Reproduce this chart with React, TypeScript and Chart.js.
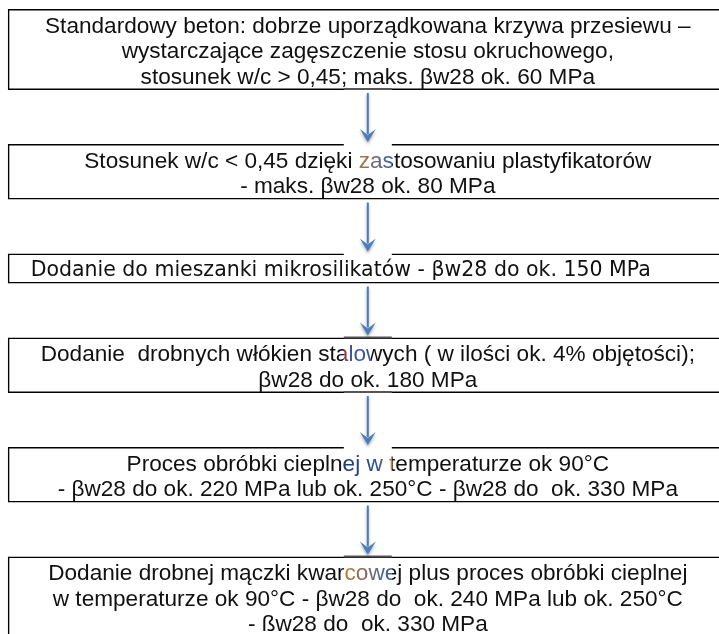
import React, { useEffect, useRef } from "react";
import { Chart, registerables } from "chart.js";

Chart.register(...registerables);

// ---- content (flow steps, top to bottom) ----
const step1: string[] = [
  "Standardowy beton: dobrze uporządkowana krzywa przesiewu –",
  "wystarczające zagęszczenie stosu okruchowego,",
  "stosunek w/c > 0,45; maks. βw28 ok. 60 MPa",
];
const step2: string[] = [
  "Stosunek w/c < 0,45 dzięki zastosowaniu plastyfikatorów",
  "- maks. βw28 ok. 80 MPa",
];
const step3: string[] = ["Dodanie do mieszanki mikrosilikatów - βw28 do ok. 150 MPa"];
const step4: string[] = [
  "Dodanie  drobnych włókien stalowych ( w ilości ok. 4% objętości);",
  "βw28 do ok. 180 MPa",
];
const step5: string[] = [
  "Proces obróbki cieplnej w temperaturze ok 90°C",
  "- βw28 do ok. 220 MPa lub ok. 250°C - βw28 do  ok. 330 MPa",
];
const step6: string[] = [
  "Dodanie drobnej mączki kwarcowej plus proces obróbki cieplnej",
  "w temperaturze ok 90°C - βw28 do  ok. 240 MPa lub ok. 250°C",
  "- ßw28 do  ok. 330 MPa",
];
const steps: string[][] = [step1, step2, step3, step4, step5, step6];

// ---- layout (value space of the hidden scales) ----
const W = 719;
const H = 634;
const TOP0 = 9;
const LINE_H = 25.5;
const PAD = 4.5;
const GAP = 54;
const CX = 369;
const BOX_W = 720;
const TEXT_DY = 2.5;
const FONT_MAIN = "22.6px 'Liberation Sans', Arial, sans-serif";
const FONT_ALT = "20.5px 'DejaVu Sans', sans-serif";
const ALT_STEP = 2;
const ALT_CX = 338;

function layout() {
  const boxes: { top: number; bottom: number }[] = [];
  let y = TOP0;
  steps.forEach((lines) => {
    const h = lines.length * LINE_H + PAD;
    boxes.push({ top: y, bottom: y + h });
    y += h + GAP;
  });
  return boxes;
}

const flowPlugin = {
  id: "flow",
  afterDatasetsDraw(chart: any) {
    const ctx: CanvasRenderingContext2D = chart.ctx;
    const xs = chart.scales.x;
    const ys = chart.scales.y;
    const boxes = layout();
    const ax = xs.getPixelForValue(CX);
    const fw = 24;

    ctx.save();
    // arrow frames on box edges
    boxes.forEach((b, i) => {
      if (i === 0) return;
      const yt = ys.getPixelForValue(b.top);
      if (i === 3 || i === 5) {
        ctx.strokeStyle = "#555";
        ctx.lineWidth = 2;
        ctx.beginPath();
        ctx.moveTo(ax - fw, yt);
        ctx.lineTo(ax + fw, yt);
        ctx.stroke();
      } else {
        ctx.fillStyle = "#fff";
        ctx.fillRect(ax - fw, yt - 2, fw * 2, 4);
      }
    });
    [0, 3].forEach((i) => {
      const yb = ys.getPixelForValue(boxes[i].bottom);
      ctx.strokeStyle = "#555";
      ctx.lineWidth = 2;
      ctx.beginPath();
      ctx.moveTo(ax - fw, yb - 1);
      ctx.lineTo(ax + fw, yb - 1);
      ctx.stroke();
    });

    // texts
    ctx.textAlign = "center";
    ctx.textBaseline = "middle";
    steps.forEach((lines, i) => {
      const b = boxes[i];
      const mid = (b.top + b.bottom) / 2 + TEXT_DY;
      const alt = i === ALT_STEP;
      ctx.font = alt ? FONT_ALT : FONT_MAIN;
      const tx = xs.getPixelForValue(alt ? ALT_CX : CX);
      lines.forEach((line, j) => {
        const ly = ys.getPixelForValue(mid + (j - (lines.length - 1) / 2) * LINE_H);
        ctx.fillStyle = "#111";
        ctx.fillText(line, tx, ly);
        if (j === 0 && (i === 1 || i === 3 || i === 4 || i === 5)) {
          const x0 = i === 1 ? ax - 12 : ax - fw;
          const x1 = i === 3 ? ax + 3 : ax + fw;
          ctx.save();
          ctx.beginPath();
          ctx.rect(x0, ly - 13, x1 - x0, 26);
          ctx.clip();
          ctx.fillStyle = "#fff";
          ctx.fillRect(x0, ly - 13, x1 - x0, 26);
          const g = ctx.createLinearGradient(x0, 0, x1, 0);
          if (i === 1 || i === 5) {
            g.addColorStop(0, "#c8782c");
            g.addColorStop(0.5, "#7a6a70");
            g.addColorStop(1, "#3b5fa8");
          } else if (i === 3) {
            g.addColorStop(0, "#a0304a");
            g.addColorStop(0.3, "#3a56a8");
            g.addColorStop(1, "#3a56a8");
          } else {
            g.addColorStop(0, "#1e3a78");
            g.addColorStop(0.7, "#2c4f96");
            g.addColorStop(1, "#c07a30");
          }
          ctx.fillStyle = g;
          ctx.fillText(line, tx, ly);
          ctx.restore();
        }
      });
    });

    // arrows
    for (let i = 0; i < boxes.length - 1; i++) {
      const y1 = ys.getPixelForValue(boxes[i].bottom) + 3;
      const tip = ys.getPixelForValue(boxes[i + 1].top) - 2;
      ctx.save();
      ctx.shadowColor = "rgba(0,0,0,0.35)";
      ctx.shadowBlur = 3;
      ctx.shadowOffsetY = 2;
      ctx.strokeStyle = "#4a7ebb";
      ctx.lineWidth = 2;
      ctx.beginPath();
      ctx.moveTo(ax, y1);
      ctx.lineTo(ax, tip - 8);
      ctx.stroke();
      ctx.fillStyle = "#4a7ebb";
      ctx.beginPath();
      ctx.moveTo(ax, tip);
      ctx.lineTo(ax - 8, tip - 13);
      ctx.lineTo(ax, tip - 7);
      ctx.lineTo(ax + 8, tip - 13);
      ctx.closePath();
      ctx.fill();
      ctx.restore();
    }
    ctx.restore();
  },
};

export default function App() {
  const ref = useRef<HTMLCanvasElement | null>(null);
  useEffect(() => {
    document.body.style.margin = "0";
    const boxes = layout();
    const chart = new Chart(ref.current as HTMLCanvasElement, {
      type: "bar",
      data: {
        datasets: [
          {
            data: boxes.map((b) => ({ x: CX, y: [b.bottom, b.top] })) as any,
            backgroundColor: "rgba(255,255,255,0)",
            borderColor: "#000",
            borderWidth: 1.5,
            borderSkipped: false,
            barThickness: BOX_W,
            inflateAmount: 0,
          } as any,
        ],
      },
      options: {
        responsive: false,
        animation: false,
        events: [],
        layout: { padding: 0 },
        plugins: { legend: { display: false }, tooltip: { enabled: false } },
        scales: {
          x: { type: "linear", min: 0, max: W, display: false },
          y: { type: "linear", min: 0, max: H, reverse: true, display: false },
        },
      },
      plugins: [flowPlugin],
    });
    return () => chart.destroy();
  }, []);
  return (
    <div style={{ position: "fixed", left: 0, top: 0, width: W, height: H, background: "#fff" }}>
      <canvas ref={ref} width={W} height={H} style={{ width: W, height: H, display: "block" }} />
    </div>
  );
}
